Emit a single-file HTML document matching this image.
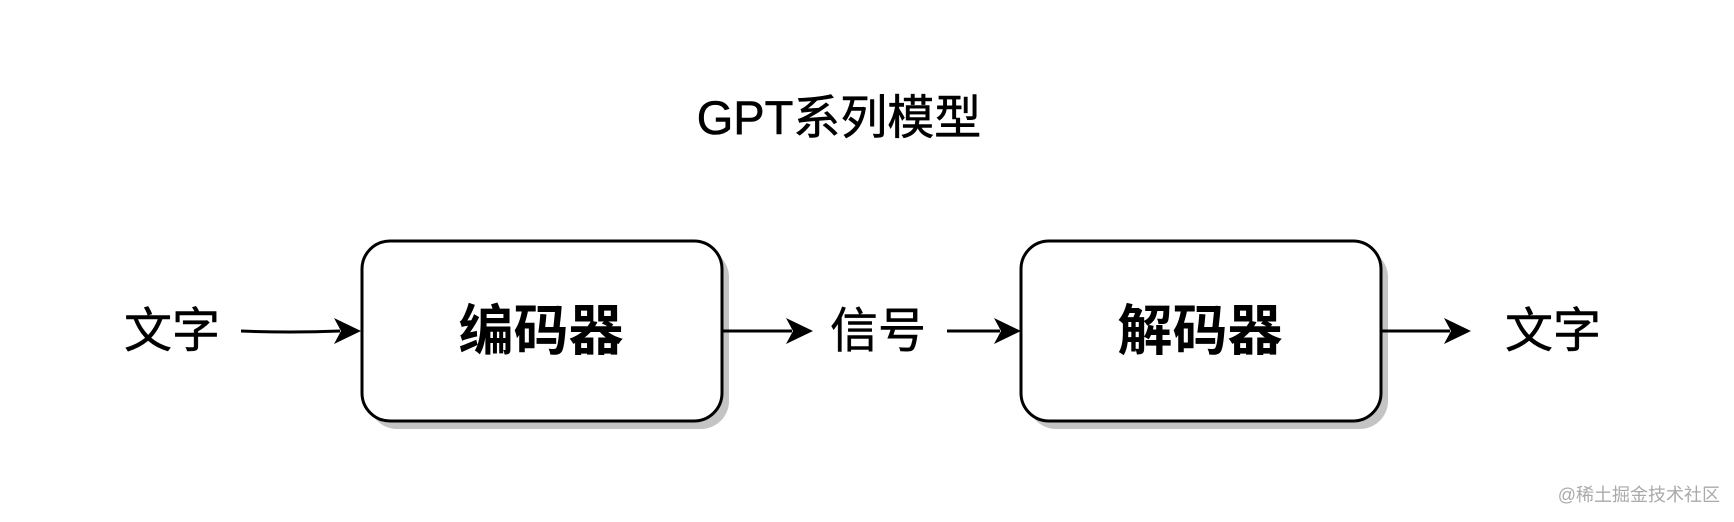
<!DOCTYPE html>
<html><head><meta charset="utf-8"><style>
html,body{margin:0;padding:0;background:#fff;}
body{width:1734px;height:522px;overflow:hidden;position:relative;}
svg{position:absolute;left:0;top:0;}
text{font-family:"Liberation Sans","Noto Sans CJK SC",sans-serif;}
</style></head><body>
<svg width="1734" height="522" viewBox="0 0 1734 522">
<text x="839" y="134" font-size="47" text-anchor="middle" fill="#000" stroke="#000" stroke-width="0.6">GPT系列模型</text>
<rect x="369" y="249" width="360" height="180" rx="28" fill="#c4c4c4"/>
<rect x="1028" y="249" width="360" height="180" rx="28" fill="#c4c4c4"/>
<rect x="362" y="241" width="360" height="180" rx="28" fill="#fff" stroke="#000" stroke-width="3"/>
<rect x="1021" y="241" width="360" height="180" rx="28" fill="#fff" stroke="#000" stroke-width="3"/>
<text x="541" y="350" font-size="55" font-weight="bold" text-anchor="middle">编码器</text>
<text x="1200" y="350" font-size="55" font-weight="bold" text-anchor="middle">解码器</text>
<text x="172" y="347" font-size="48" text-anchor="middle" stroke="#000" stroke-width="0.5">文字</text>
<text x="878" y="347" font-size="48" text-anchor="middle" stroke="#000" stroke-width="0.5">信号</text>
<text x="1553" y="347" font-size="48" text-anchor="middle" stroke="#000" stroke-width="0.5">文字</text>
<g stroke="#000" stroke-width="3" fill="none">
<path d="M241 331 Q290 333 340 331"/>
<line x1="722" y1="331" x2="792" y2="331"/>
<line x1="947" y1="331" x2="1000" y2="331"/>
<line x1="1381" y1="331" x2="1450" y2="331"/>
</g>
<g fill="#000">
<path d="M361 331 L334 318 L341 331 L334 344 Z"/>
<path d="M813 331 L786 318 L793 331 L786 344 Z"/>
<path d="M1021 331 L994 318 L1001 331 L994 344 Z"/>
<path d="M1471 331 L1444 318 L1451 331 L1444 344 Z"/>
</g>
<text x="1720" y="501" font-size="18" text-anchor="end" fill="#aaa">@稀土掘金技术社区</text>
</svg>
</body></html>
